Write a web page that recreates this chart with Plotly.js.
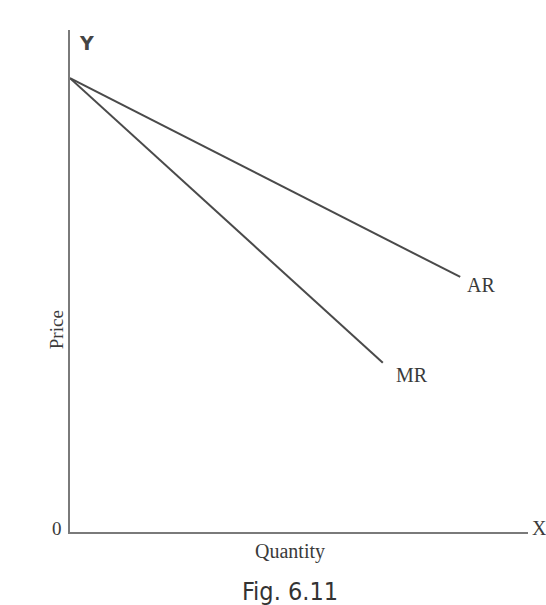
<!DOCTYPE html>
<html>
<head>
<meta charset="utf-8">
<script src="https://cdn.plot.ly/plotly-3.0.1.min.js"></script>
<style>html,body{margin:0;padding:0;background:#fff;}#chart{width:546px;height:605px;}</style>
</head>
<body>
<div id="chart"></div>
<script>
// Data
const curveNames = ["AR", "MR"];
const arQuantity = [0, 8.52];
const arPrice = [9.04, 5.08];
const mrQuantity = [0, 6.83];
const mrPrice = [9.04, 3.37];
const xAxisLabel = "Quantity";
const yAxisLabel = "Price";
const axisLetters = ["X", "Y"];
const originLabel = "0";
const figCaption = "Fig. 6.11";

const serif = "Liberation Serif, DejaVu Serif, serif";
const lineColor = "#4a4a4a";
const textColor = "#3a3a3a";

const traces = [
  {x: arQuantity, y: arPrice, mode: "lines", name: curveNames[0],
   line: {color: lineColor, width: 2}, hoverinfo: "skip"},
  {x: mrQuantity, y: mrPrice, mode: "lines", name: curveNames[1],
   line: {color: lineColor, width: 2}, hoverinfo: "skip"}
];

const layout = {
  width: 546, height: 605,
  margin: {l: 70, r: 18, t: 30, b: 73},
  paper_bgcolor: "#fff", plot_bgcolor: "#fff",
  showlegend: false,
  xaxis: {range: [0, 10], showgrid: false, zeroline: false, showticklabels: false, ticks: "",
          showline: true, linecolor: "#7a7a7a", linewidth: 1.8},
  yaxis: {range: [0, 10], showgrid: false, zeroline: false, showticklabels: false, ticks: "",
          showline: true, linecolor: "#7a7a7a", linewidth: 1.8},
  annotations: [
    {x: arQuantity[1], y: arPrice[1], xref: "x", yref: "y", text: curveNames[0], showarrow: false,
     xanchor: "left", yanchor: "middle", xshift: 5, yshift: -8, font: {family: serif, size: 20, color: textColor}},
    {x: mrQuantity[1], y: mrPrice[1], xref: "x", yref: "y", text: curveNames[1], showarrow: false,
     xanchor: "left", yanchor: "middle", xshift: 11, yshift: -12, font: {family: serif, size: 20, color: textColor}},
    {x: 0, y: 1, xref: "paper", yref: "paper", text: axisLetters[1], showarrow: false,
     xanchor: "center", yanchor: "middle", xshift: 16, yshift: -13, font: {family: "DejaVu Sans, sans-serif", size: 19, color: "#444", weight: "bold"}},
    {x: 1, y: 0, xref: "paper", yref: "paper", text: axisLetters[0], showarrow: false,
     xanchor: "center", yanchor: "middle", xshift: 11, yshift: 4, font: {family: serif, size: 20, color: textColor}},
    {x: 0, y: 0, xref: "paper", yref: "paper", text: originLabel, showarrow: false,
     xanchor: "center", yanchor: "middle", xshift: -13, yshift: 4, font: {family: serif, size: 19, color: textColor}},
    {x: 0, y: 0.402, xref: "paper", yref: "paper", text: yAxisLabel, showarrow: false, textangle: -90,
     xanchor: "center", yanchor: "middle", xshift: -14, font: {family: serif, size: 19, color: textColor}},
    {x: 0.48, y: 0, xref: "paper", yref: "paper", text: xAxisLabel, showarrow: false,
     xanchor: "center", yanchor: "middle", yshift: -19, font: {family: serif, size: 20, color: textColor}},
    {x: 0.48, y: 0, xref: "paper", yref: "paper", text: figCaption, showarrow: false,
     xanchor: "center", yanchor: "middle", yshift: -59, font: {family: "DejaVu Sans Condensed, DejaVu Sans, sans-serif", size: 25, color: "#333"}}
  ]
};

Plotly.newPlot("chart", traces, layout, {displayModeBar: false, staticPlot: true});
</script>
</body>
</html>
